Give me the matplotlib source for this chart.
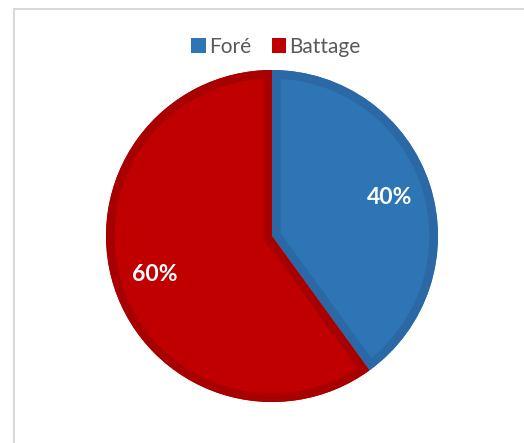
import matplotlib
matplotlib.use("Agg")
import matplotlib.pyplot as plt
from matplotlib.patches import Patch, Rectangle, Wedge

# share of each method
labels = ["Foré", "Battage"]
values = [40, 60]
colors = ["#2E75B6", "#C00000"]
edge_colors = ["#2A69A5", "#A80000"]

W, H = 524, 443
fig = plt.figure(figsize=(W / 100, H / 100), dpi=100)
ax = fig.add_axes([0, 0, 1, 1])

wedges, texts, autotexts = ax.pie(
    values, colors=colors, startangle=90, counterclock=False,
    center=(272, H - 236), radius=166, autopct="%d%%", pctdistance=0.745,
    wedgeprops=dict(linewidth=0),
    textprops=dict(color="white", fontsize=16.5, fontweight="bold", family="Lato"))

# pie() resets the view, so fix pixel-like limits afterwards
ax.set_xlim(0, W)
ax.set_ylim(0, H)
ax.set_aspect("equal")
ax.axis("off")

# darker inner band along every wedge border
for w, ec in zip(wedges, edge_colors):
    band = Wedge(w.center, w.r, w.theta1, w.theta2, facecolor="none",
                 edgecolor=ec, linewidth=12.5, zorder=w.get_zorder() + 0.1)
    ax.add_patch(band)
    band.set_clip_path(w)

# light frame around the chart area
ax.add_patch(Rectangle((13.5, -10), W, H - 8.5 + 10, fill=False,
                       edgecolor="#D9D9D9", linewidth=1.5))

handles = [Patch(facecolor=c, edgecolor="none") for c in colors]
leg = ax.legend(handles, labels, loc="center", bbox_to_anchor=(276 / W, 1 - 47 / H),
                ncol=2, frameon=False, handlelength=0.7, handleheight=0.7,
                handletextpad=0.15, columnspacing=1.0,
                prop=dict(family="Lato", size=15))
for t in leg.get_texts():
    t.set_color("#595959")

fig.savefig("out.png", dpi=100)
